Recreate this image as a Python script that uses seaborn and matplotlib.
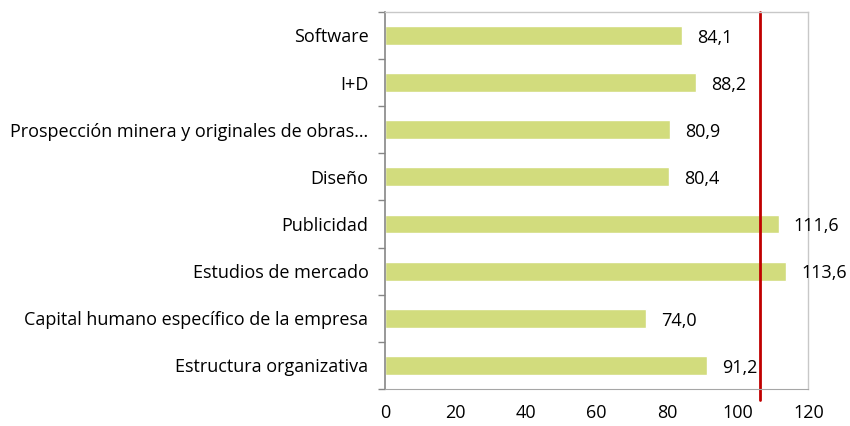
import numpy as np
import pandas as pd
import matplotlib
matplotlib.use("Agg")
import matplotlib.pyplot as plt
import seaborn as sns

categorias = [
    "Software",
    "I+D",
    "Prospección minera y originales de obras…",
    "Diseño",
    "Publicidad",
    "Estudios de mercado",
    "Capital humano específico de la empresa",
    "Estructura organizativa",
]
valores = [84.1, 88.2, 80.9, 80.4, 111.6, 113.6, 74.0, 91.2]
referencia = 106.4
xticks = [0, 20, 40, 60, 80, 100, 120]

df = pd.DataFrame({"cat": categorias, "val": valores})

sns.set_style("white")
plt.rcParams["font.family"] = ["Open Sans", "DejaVu Sans"]

fig, ax = plt.subplots(figsize=(8.5, 4.26), dpi=100)
fig.subplots_adjust(left=0.453, right=0.951, top=0.972, bottom=0.087)

sns.barplot(data=df, x="val", y="cat", color="#D2DC7D", width=0.4,
            saturation=1, ax=ax, orient="h")

for i, v in enumerate(valores):
    ax.text(v + 4.3, i + 0.05, f"{v:.1f}".replace(".", ","), va="center", ha="left",
            fontsize=13, color="#000000", clip_on=False)

ax.axvline(referencia, color="#C00000", lw=2, ymin=-0.03, ymax=1.0, clip_on=False)

ax.set_xlim(0, 120)
ax.set_ylim(len(categorias) - 0.5, -0.5)
ax.set_xticks(xticks)
ax.set_xticklabels([str(t) for t in xticks], fontsize=13, color="#000000")
ax.tick_params(axis="x", length=0, pad=11)
ax.tick_params(axis="y", which="major", left=True, length=0, pad=12, labelsize=13,
               labelcolor="#000000")
ax.set_yticks(np.arange(-0.5, len(categorias), 1), minor=True)
ax.tick_params(axis="y", which="minor", left=True, length=5, color="#868686", width=1)
ax.set_xlabel("")
ax.set_ylabel("")

for s in ["top", "right"]:
    ax.spines[s].set_visible(True)
    ax.spines[s].set_color("#C8C8C8")
    ax.spines[s].set_linewidth(1)
ax.spines["bottom"].set_color("#A6A6A6")
ax.spines["left"].set_color("#868686")
ax.spines["left"].set_linewidth(1.2)

fig.savefig("out.png", dpi=100)
